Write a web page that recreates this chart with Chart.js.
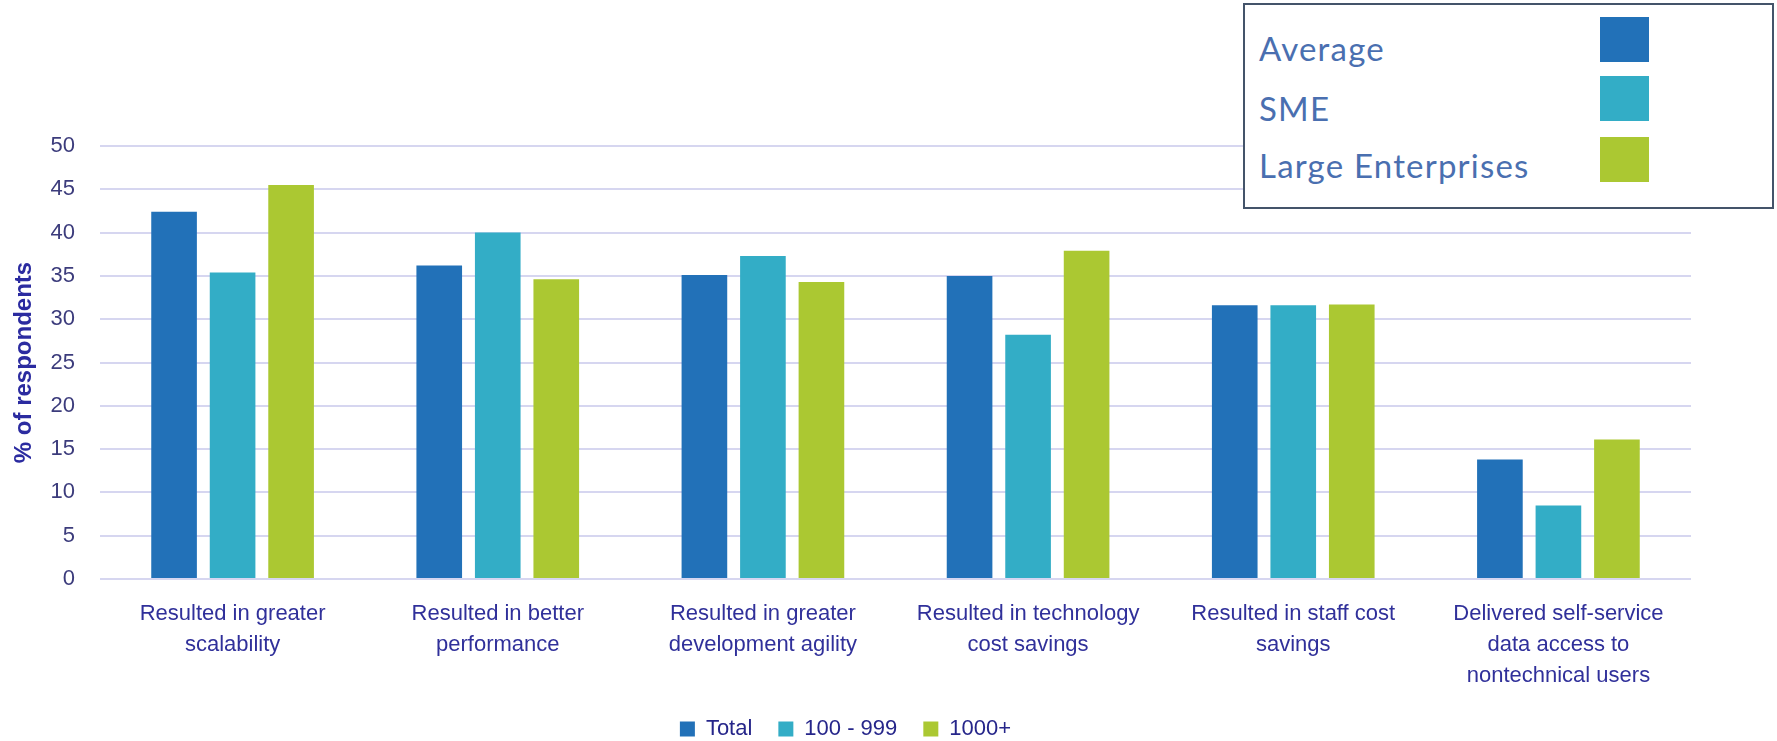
<!DOCTYPE html>
<html>
<head>
<meta charset="utf-8">
<script src="https://cdn.jsdelivr.net/npm/chart.js@4"></script>
<style>
  html, body { margin: 0; padding: 0; background: #fff; overflow: hidden; }
  #wrap { position: relative; width: 1777px; height: 760px; }
  #c { position: absolute; left: 0; top: 0; }
  #box {
    position: absolute; left: 1243px; top: 3px; width: 527px; height: 202px;
    border: 2px solid #44546a; background: #fff; z-index: 2;
  }
  .bt { position: absolute; left: 14px; font-family: Lato, "Open Sans", sans-serif; font-size: 33px; line-height: 33px; letter-spacing: 1.2px; color: #4a6fb0; white-space: nowrap; }
  .sw { position: absolute; left: 355px; width: 49px; height: 45px; }
</style>
</head>
<body>
<div id="wrap">
  <canvas id="c" width="1777" height="760"></canvas>
  <div id="box">
    <div class="bt" style="top:27px">Average</div>
    <div class="bt" style="top:87px">SME</div>
    <div class="bt" style="top:144px">Large Enterprises</div>
    <div class="sw" style="top:12px;background:#2271b8"></div>
    <div class="sw" style="top:71px;background:#33adc6"></div>
    <div class="sw" style="top:132px;background:#abc832"></div>
  </div>
</div>
<script>
const categories = [
  ["Resulted in greater", "scalability"],
  ["Resulted in better", "performance"],
  ["Resulted in greater", "development agility"],
  ["Resulted in technology", "cost savings"],
  ["Resulted in staff cost", "savings"],
  ["Delivered self-service", "data access to", "nontechnical users"]
];
const seriesNames = ["Total", "100 - 999", "1000+"];
const totalValues = [42.4, 36.2, 35.1, 35.0, 31.6, 13.8];
const smeValues   = [35.4, 40.0, 37.3, 28.2, 31.6, 8.5];
const largeValues = [45.5, 34.6, 34.3, 37.9, 31.7, 16.1];
const colors = ["#2271b8", "#33adc6", "#abc832"];

new Chart(document.getElementById('c'), {
  type: 'bar',
  data: {
    labels: categories,
    datasets: [totalValues, smeValues, largeValues].map((d, i) => ({
      label: seriesNames[i],
      data: d,
      backgroundColor: colors[i],
      borderWidth: 0,
      categoryPercentage: 0.662,
      barPercentage: 0.78
    }))
  },
  options: {
    responsive: false,
    animation: false,
    layout: { padding: { top: 146, right: 86, bottom: 10, left: 0 } },
    plugins: {
      tooltip: { enabled: false },
      legend: {
        position: 'bottom',
        labels: {
          boxWidth: 15, boxHeight: 15, padding: 26,
          color: '#26268a',
          font: { family: '"Liberation Sans", Arial, sans-serif', size: 22 }
        }
      }
    },
    scales: {
      x: {
        grid: { display: false, drawTicks: false },
        border: { display: false },
        ticks: {
          padding: 20,
          maxRotation: 0, autoSkip: false,
          color: '#30309a',
          font: { family: '"Liberation Sans", Arial, sans-serif', size: 22, lineHeight: 1.4 }
        },
        afterFit: s => { s.height = 113; }
      },
      y: {
        min: 0, max: 50,
        grid: { color: '#d6d6f0', lineWidth: 2, drawTicks: false },
        border: { display: false },
        ticks: {
          stepSize: 5, padding: 25,
          color: '#3c3c7c',
          font: { family: '"Liberation Sans", Arial, sans-serif', size: 22 }
        },
        title: {
          display: true, text: '% of respondents',
          color: '#2b2ba0',
          padding: { top: 10, bottom: 0 },
          font: { family: '"Liberation Sans", Arial, sans-serif', size: 24, weight: 'bold' }
        },
        afterFit: s => { s.width = 100; }
      }
    }
  }
});
</script>
</body>
</html>
